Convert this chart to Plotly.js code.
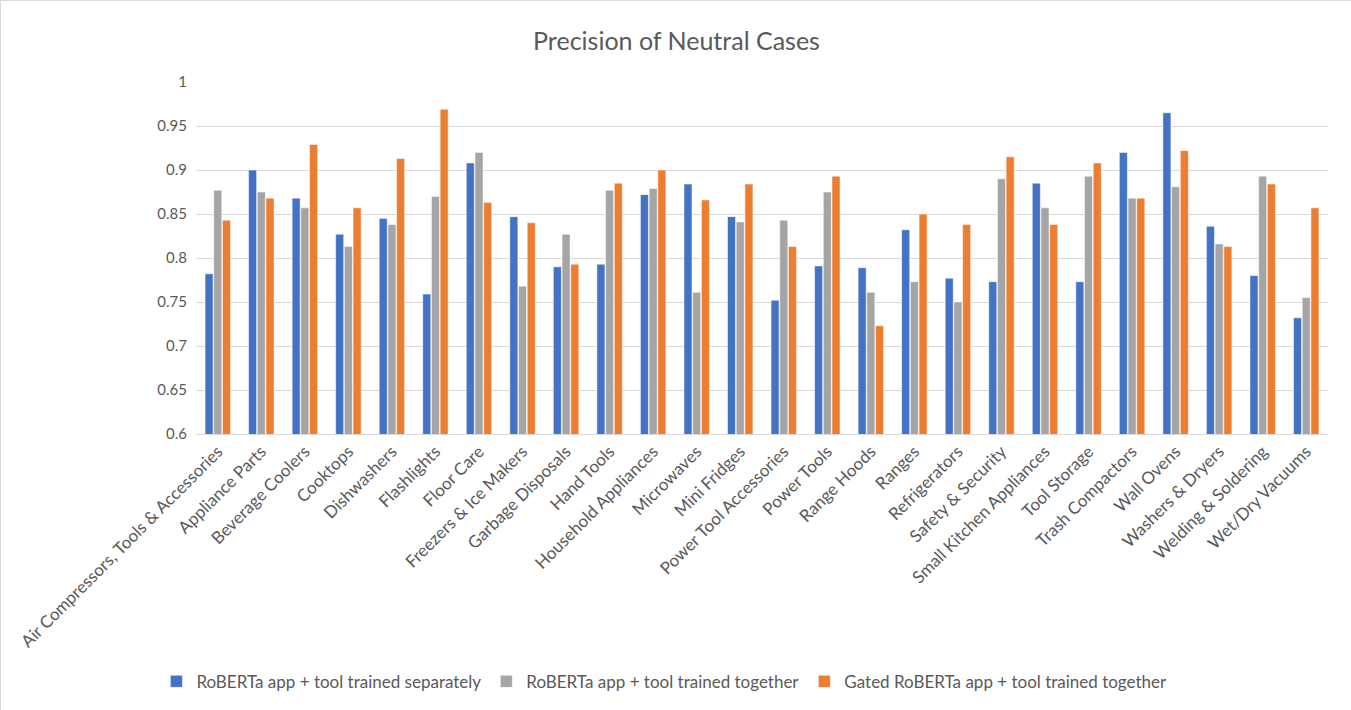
<!DOCTYPE html>
<html>
<head>
<meta charset="utf-8">
<script src="https://cdn.plot.ly/plotly-3.0.1.min.js"></script>
<style>
html,body{margin:0;padding:0;background:#fff;}
#chart{width:1351px;height:710px;box-sizing:border-box;border:1px solid #d9d9d9;}
</style>
</head>
<body>
<div id="chart"></div>
<script>
const categories = ["Air Compressors, Tools & Accessories","Appliance Parts","Beverage Coolers","Cooktops","Dishwashers","Flashlights","Floor Care","Freezers & Ice Makers","Garbage Disposals","Hand Tools","Household Appliances","Microwaves","Mini Fridges","Power Tool Accessories","Power Tools","Range Hoods","Ranges","Refrigerators","Safety & Security","Small Kitchen Appliances","Tool Storage","Trash Compactors","Wall Ovens","Washers & Dryers","Welding & Soldering","Wet/Dry Vacuums"];
const separately = [0.782,0.900,0.868,0.827,0.845,0.759,0.908,0.847,0.790,0.793,0.872,0.884,0.847,0.752,0.791,0.789,0.832,0.777,0.773,0.885,0.773,0.920,0.965,0.836,0.780,0.732];
const together = [0.877,0.875,0.857,0.813,0.838,0.870,0.920,0.768,0.827,0.877,0.879,0.761,0.841,0.843,0.875,0.761,0.773,0.750,0.890,0.857,0.893,0.868,0.881,0.816,0.893,0.755];
const gated = [0.843,0.868,0.929,0.857,0.913,0.969,0.863,0.840,0.793,0.885,0.900,0.866,0.884,0.813,0.893,0.723,0.850,0.838,0.915,0.838,0.908,0.868,0.922,0.813,0.884,0.857];
const seriesNames = ["RoBERTa app + tool trained separately","RoBERTa app + tool trained together","Gated RoBERTa app + tool trained together"];
const colors = ["#4472c4","#a5a5a5","#ed7d31"];
const font = "Lato, 'Open Sans', sans-serif";

const traces = [separately, together, gated].map((vals, i) => ({
  type: 'bar',
  name: seriesNames[i],
  x: categories,
  y: vals,
  marker: {color: colors[i], line: {color: '#ffffff', width: 0.5}},
  hoverinfo: 'x+y+name'
}));

const layout = {
  width: 1351, height: 710,
  paper_bgcolor: '#ffffff', plot_bgcolor: '#ffffff',
  margin: {l: 195, r: 24, t: 81, b: 274},
  title: {text: 'Precision of Neutral Cases', font: {family: font, size: 25, color: '#595959'}, x: 0.5, xanchor: 'center', y: 0.944, yref: 'container', yanchor: 'middle'},
  barmode: 'group',
  bargap: 0.4,
  bargroupgap: 0.08,
  xaxis: {
    type: 'category',
    tickangle: -45,
    tickfont: {family: font, size: 17, color: '#595959'},
    showgrid: false,
    showline: true, linecolor: '#d9d9d9', linewidth: 1,
    ticks: '',
    automargin: false
  },
  yaxis: {
    range: [0.6, 1],
    dtick: 0.05,
    tick0: 0.6,
    tickfont: {family: font, size: 15, color: '#595959'},
    gridcolor: '#d9d9d9', gridwidth: 1,
    zeroline: false,
    showline: false,
    ticks: '',
    ticklabelstandoff: 8,
    automargin: false
  },
  legend: {
    orientation: 'h',
    x: -0.035, xanchor: 'left',
    y: -0.704, yanchor: 'middle',
    font: {family: font, size: 17, color: '#595959'},
    itemwidth: 30
  },
  showlegend: true
};

Plotly.newPlot('chart', traces, layout, {displayModeBar: false, staticPlot: false});
</script>
</body>
</html>
